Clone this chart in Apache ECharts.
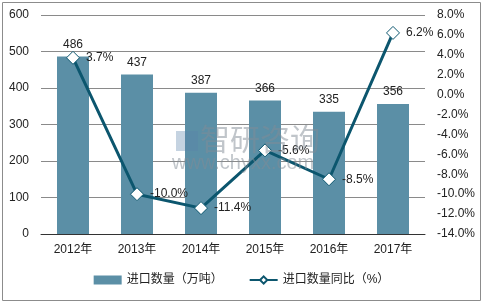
<!DOCTYPE html>
<html><head><meta charset="utf-8">
<script src="https://cdn.jsdelivr.net/npm/echarts@6/dist/echarts.min.js"></script>
<style>html,body{margin:0;padding:0;background:#fff}#c{width:483px;height:303px}</style>
</head><body><div id="c"></div>
<script>
const categories = ['2012年','2013年','2014年','2015年','2016年','2017年'];
const importVolume = [486, 437, 387, 366, 335, 356];
const importYoY = [3.7, -10.0, -11.4, -5.6, -8.5, 6.2];
const barName = '进口数量（万吨）';
const lineName = '进口数量同比（%）';

const chart = echarts.init(document.getElementById('c'));
const font = '"Liberation Sans","Noto Sans CJK SC",sans-serif';
chart.setOption({
  animation: false,
  textStyle: {fontFamily: font},
  graphic: [
    {type:'rect', shape:{x:2.5,y:2.5,width:478,height:298}, style:{fill:'none', stroke:'#8c8c8c', lineWidth:1}, z:-1},
    {type:'rect', shape:{x:176,y:131,width:22,height:20}, style:{fill:'rgba(90,130,170,0.35)'}, z:100},
    {type:'text', left:200, top:124, style:{text:'智研咨询', font:'30px "Noto Sans CJK SC"', fill:'rgba(130,140,150,0.5)'}, z:100},
    {type:'text', left:172, top:153, style:{text:'www.chyxx.com', font:'20px "Liberation Sans"', fill:'rgba(130,140,150,0.5)'}, z:100}
  ],
  grid: {left: 41, right: 58, top: 15, bottom: 69},
  legend: {
    bottom: 12, left: 'center', itemGap: 26, itemWidth: 28, itemHeight: 9,
    textStyle: {fontSize: 12, color: '#222', fontFamily: font},
    data: [{name: barName, icon: 'rect'}, {name: lineName}]
  },
  xAxis: {
    type: 'category', data: categories,
    axisLine: {lineStyle: {color: '#333', width: 1}},
    axisTick: {show: false},
    axisLabel: {fontSize: 12, color: '#222', margin: 10}
  },
  yAxis: [
    {type: 'value', min: 0, max: 600, interval: 100,
     axisLine: {show: false}, axisTick: {show: false},
     axisLabel: {fontSize: 12, color: '#222', margin: 12},
     splitLine: {lineStyle: {color: '#8a8a8a', width: 1}}},
    {type: 'value', min: -14, max: 8, interval: 2,
     axisLine: {show: false}, axisTick: {show: false},
     axisLabel: {fontSize: 12, color: '#222', margin: 12, formatter: v => v.toFixed(1) + '%'},
     splitLine: {show: false}}
  ],
  series: [
    {name: barName, type: 'bar', data: importVolume, barWidth: '50%',
     itemStyle: {color: '#5b8fa6'},
     label: {show: true, position: 'top', fontSize: 12, color: '#222', distance: 6}},
    {name: lineName, type: 'line', yAxisIndex: 1, data: importYoY,
     symbol: 'diamond', symbolSize: 13,
     lineStyle: {color: '#0c566e', width: 3},
     itemStyle: {color: '#fff', borderColor: '#0c566e', borderWidth: 1},
     label: {show: true, position: 'right', fontSize: 12, color: '#222', distance: 6, formatter: p => p.value.toFixed(1) + '%'}}
  ]
});
</script></body></html>
